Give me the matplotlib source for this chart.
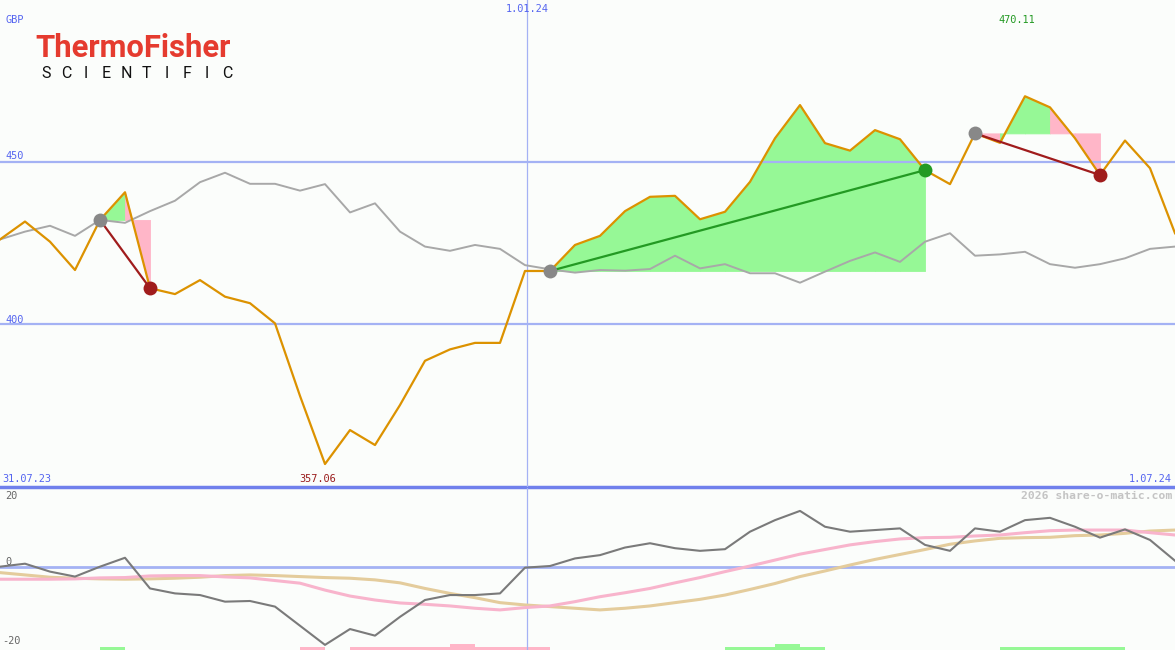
import matplotlib.pyplot as plt
import numpy as np

# weekly closes, 31.07.23 .. 1.07.24 (GBP)
price = [426.1, 431.6, 425.4, 416.7, 432.1, 440.6, 411.1, 409.3, 413.6, 408.5,
         406.5, 400.3, 378.0, 357.06, 367.5, 362.9, 375.2, 388.8, 392.3, 394.3,
         394.3, 416.4, 416.4, 424.4, 427.2, 434.8, 439.2, 439.5, 432.3, 434.6,
         443.8, 457.2, 467.4, 455.7, 453.4, 459.7, 456.9, 447.4, 443.1, 458.7,
         455.8, 470.11, 466.7, 457.2, 445.9, 456.5, 448.0, 428.0]
bench = [426.1, 428.5, 430.3, 427.2, 432.1, 431.2, 434.8, 438.0, 443.7, 446.6,
         443.2, 443.2, 441.1, 443.1, 434.4, 437.2, 428.5, 423.9, 422.6, 424.4,
         423.2, 418.2, 416.9, 415.9, 416.7, 416.5, 417.0, 421.1, 417.2, 418.5,
         415.7, 415.7, 412.8, 416.2, 419.5, 422.1, 419.2, 425.4, 428.0, 421.1,
         421.5, 422.3, 418.5, 417.4, 418.5, 420.3, 423.2, 423.9]

# lower panel
mom = [0.1, 1.0, -1.4, -2.9, 0.1, 2.8, -6.5, -8.0, -8.5, -10.5,
       -10.3, -12.0, -17.8, -23.6, -18.8, -20.8, -15.1, -10.0, -8.5, -8.5,
       -8.0, -0.2, 0.3, 2.6, 3.6, 5.9, 7.2, 5.7, 4.9, 5.4,
       10.7, 14.2, 17.0, 12.2, 10.7, 11.2, 11.7, 6.7, 4.9, 11.7,
       10.7, 14.2, 14.9, 12.2, 8.9, 11.4, 8.2, 1.9]
avg_fast = [-3.7, -3.7, -3.7, -3.6, -3.3, -3.2, -2.7, -2.6, -2.6, -3.0,
            -3.3, -4.1, -4.9, -7.0, -8.8, -10.0, -10.9, -11.3, -11.8, -12.5,
            -13.0, -12.3, -11.8, -10.5, -9.0, -7.8, -6.5, -4.8, -3.2, -1.4,
            0.3, 2.1, 3.9, 5.3, 6.7, 7.7, 8.5, 8.9, 9.0, 9.4,
            9.7, 10.4, 11.0, 11.2, 11.2, 11.2, 10.4, 9.7]
avg_slow = [-1.7, -2.4, -3.1, -3.4, -3.6, -3.7, -3.6, -3.4, -3.1, -2.6,
            -2.4, -2.6, -2.9, -3.2, -3.4, -3.9, -4.8, -6.5, -8.0, -9.3,
            -10.8, -11.5, -12.0, -12.5, -13.0, -12.5, -11.8, -10.8, -9.8, -8.5,
            -6.8, -5.0, -2.9, -1.2, 0.6, 2.3, 3.8, 5.3, 6.9, 7.9,
            8.7, 8.9, 9.0, 9.5, 9.7, 10.2, 10.9, 11.2]
signal = [0, 0, 0, 0, 1, 0, 0, 0, 0, 0, 0, 0, -1, 0, -1, -1, -1, -1, -2, -1,
          -1, -1, 0, 0, 0, 0, 0, 0, 0, 1, 1, 2, 1, 0, 0, 0, 0, 0, 0, 0,
          1, 1, 1, 1, 1, 0, 0]

buy_idx = [4, 22, 39]
sell_idx = [6, 37, 44]

W, H = 1175, 650
bg = '#fbfdfb'
grid = '#a4b2f4'
blue_txt = '#5464f0'
mono = 'DejaVu Sans Mono'

x = np.arange(len(price))

fig = plt.figure(figsize=(W / 100, H / 100), dpi=100, facecolor=bg)
ax = fig.add_axes([0, (H - 487) / H, 1, 487 / H])
ax2 = fig.add_axes([0, 0, 1, 162 / H])
for a in (ax, ax2):
    a.set_facecolor(bg)
    a.set_xlim(0, len(price) - 1)
    a.axis('off')
ax.set_ylim(350, 499.7)
ax2.set_ylim(-25.15, 23.94)

ax.axhline(450, color=grid, lw=1.6)
ax.axhline(400, color=grid, lw=1.6)
ax.axhline(350, color='#7080ec', lw=2.5, clip_on=False)
ax.axvline(21.08, color=grid, lw=0.9)
ax2.axvline(21.08, color=grid, lw=0.9)

# trades: shaded per week against entry price
for b, s in zip(buy_idx, sell_idx):
    entry = price[b]
    for k in range(b, s):
        col = '#96f896' if price[k + 1] > entry else '#ffb6c8'
        ax.fill_between([k, k + 1], [price[k], price[k + 1]], entry,
                        facecolor=col, edgecolor=col, lw=0.6)

ax.plot(x, bench, color='#a8a8a8', lw=1.4)
ax.plot(x, price, color='#dc9200', lw=1.6)

for b, s in zip(buy_idx, sell_idx):
    win = price[s] > price[b]
    col = '#239a23' if win else '#a01c1c'
    ax.plot([b, s], [price[b], price[s]], color=col, lw=1.6)
    ax.plot(b, price[b], 'o', color='#888888', ms=10, mec='none')
    ax.plot(s, price[s], 'o', color=col, ms=10, mec='none')

# lower panel
ax2.axhline(0, color=grid, lw=2)
ax2.plot(x, avg_slow, color='#e4cc9c', lw=2.2)
ax2.plot(x, avg_fast, color='#f8b4cc', lw=2.2)
ax2.plot(x, mom, color='#7a7a7a', lw=1.5)
for k, sv in enumerate(signal):
    if sv == 0:
        continue
    col = '#96f896' if sv > 0 else '#ffb6c8'
    ax2.bar(k + 0.5, abs(sv) * 0.95, bottom=-25.15, width=1.0, color=col, lw=0)


def label(px, py, txt, color, ha='left', size=7.4, weight='normal', family=mono):
    fig.text(px / W, 1 - py / H, txt, color=color, ha=ha, va='center',
             fontsize=size, family=family, weight=weight)


label(5, 20, 'GBP', blue_txt)
label(5, 156, '450', blue_txt)
label(5, 320, '400', blue_txt)
label(527, 9, '1.01.24', blue_txt, ha='center')
label(1017, 20, '470.11', '#229922', ha='center')
label(318, 479, '357.06', '#9a1c1c', ha='center')
label(2, 479, '31.07.23', blue_txt)
label(1172, 479, '1.07.24', blue_txt, ha='right')
label(1172, 496, '2026 share-o-matic.com', '#c4c4c4', ha='right', size=8.2, weight='bold')
label(5, 496, '20', '#666666')
label(5, 562, '0', '#666666')
label(2, 641, '-20', '#666666')

# logo
fig.text(35 / W, 1 - 57 / H, 'ThermoFisher', color='#e53b2f', fontsize=22.3,
         family='Roboto', weight='bold', ha='left', va='baseline')
letters = 'SCIENTIFIC'
for i, ch in enumerate(letters):
    fig.text((46 + i * 20.1) / W, 1 - 77.5 / H, ch, color='#111111', fontsize=11.5,
             family='Roboto', ha='center', va='baseline')

fig.savefig('out.png', dpi=100, facecolor=bg)
